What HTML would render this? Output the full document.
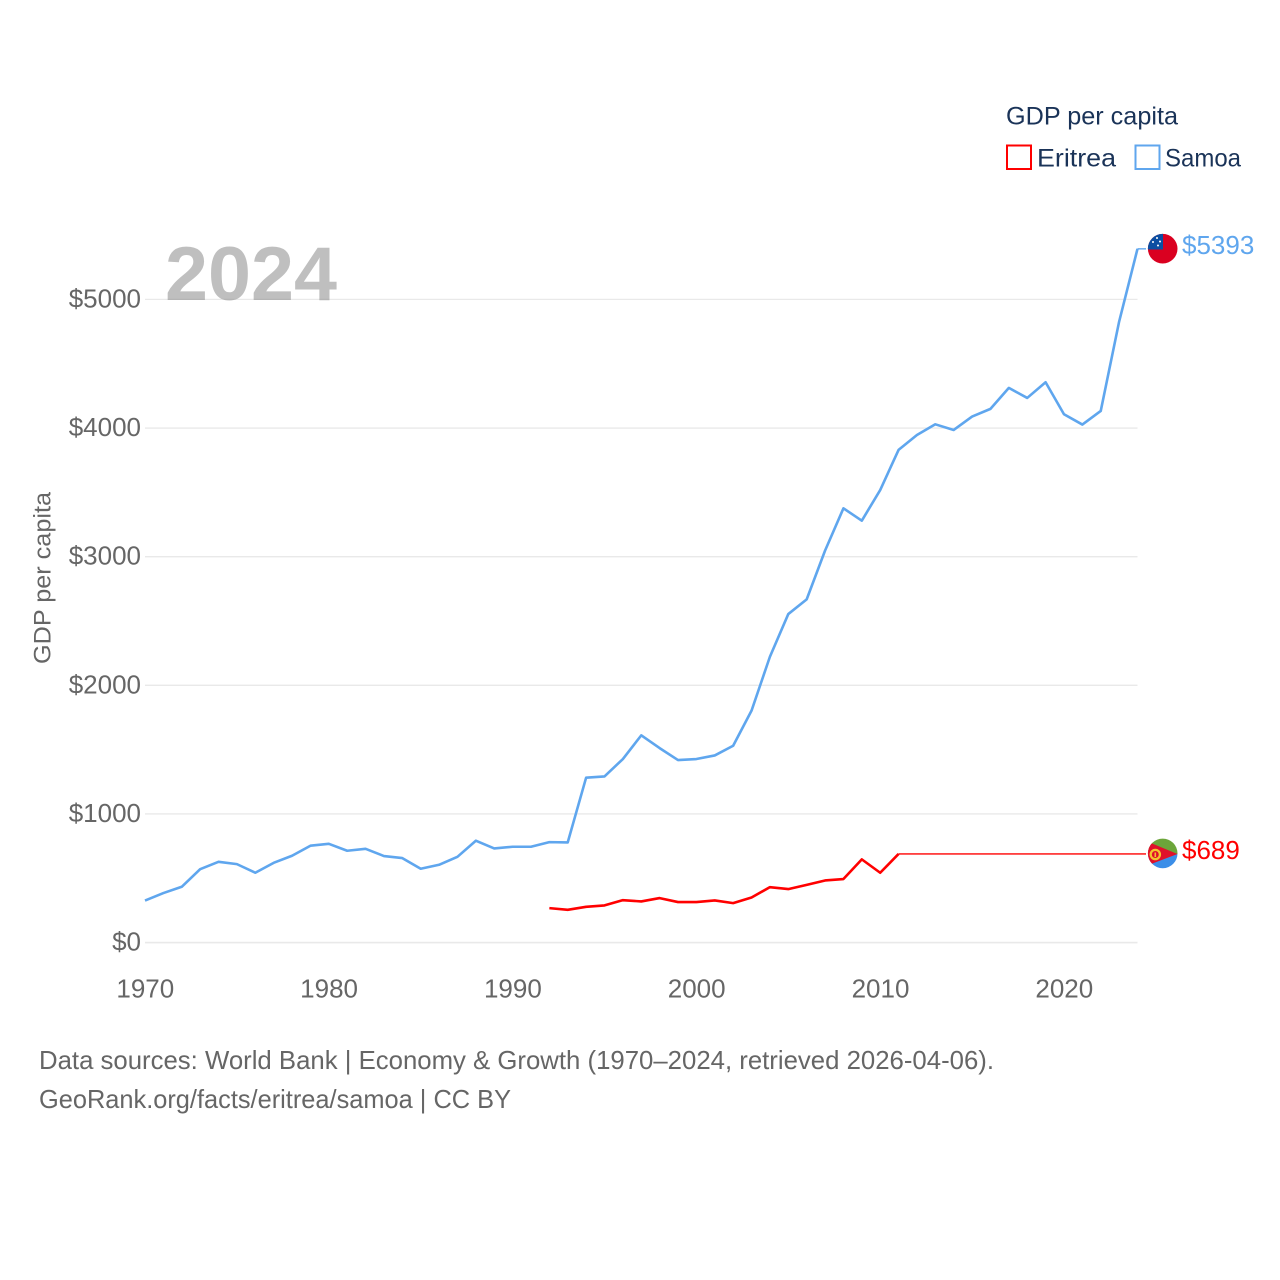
<!DOCTYPE html>
<html lang="en">
<head>
<meta charset="utf-8">
<title>GDP per capita: Eritrea and Samoa</title>
<style>
html,body{margin:0;padding:0;background:#fff;}
svg{display:block;font-family:"Liberation Sans",sans-serif;}
</style>
</head>
<body>
<svg id="chart" xmlns="http://www.w3.org/2000/svg" width="1280" height="1280" viewBox="0 0 1280 1280">
  <rect x="0" y="0" width="1280" height="1280" fill="#ffffff"/>
  <defs>
    <clipPath id="samoa-clip"><circle cx="1162.7" cy="248.7" r="14.8"/></clipPath>
    <clipPath id="eritrea-clip"><circle cx="1162.7" cy="853.4" r="14.8"/></clipPath>
  </defs>
  <g id="grid"></g>
  <g id="y-ticks"></g>
  <g id="x-ticks"></g>
  <text transform="translate(50.5,664) rotate(-90)" font-size="24.5" fill="#666666" textLength="172" lengthAdjust="spacingAndGlyphs">GDP per capita</text>
  <text x="165" y="300" font-size="76" font-weight="700" fill="#808080" fill-opacity="0.5" textLength="172" lengthAdjust="spacingAndGlyphs">2024</text>
  <g id="series"></g>
  <g clip-path="url(#samoa-clip)">
    <rect x="1146" y="232" width="34" height="34" fill="#da0020"/>
    <rect x="1146" y="232" width="17" height="17.5" fill="#0b4ea2"/>
    <circle cx="1157" cy="238" r="1" fill="#fff"/>
    <circle cx="1153" cy="242" r="1" fill="#fff"/>
    <circle cx="1160" cy="241.5" r="1" fill="#fff"/>
    <circle cx="1158" cy="245.5" r="1" fill="#fff"/>
  </g>
  <g clip-path="url(#eritrea-clip)">
    <rect x="1146" y="836" width="34" height="18" fill="#6ca53a"/>
    <rect x="1146" y="854" width="34" height="16" fill="#3b8ee8"/>
    <polygon points="1146,841 1177.6,854 1146,866" fill="#e0102a"/>
    <circle cx="1155.3" cy="854.5" r="4.6" fill="none" stroke="#f3c52e" stroke-width="2.3"/>
    <rect x="1154.5" y="852.5" width="1.6" height="4.5" fill="#f3c52e"/>
  </g>
  <text id="samoa-end-label" x="1182" y="254" font-size="26" fill="#5fa6ee"></text>
  <text id="eritrea-end-label" x="1182" y="859" font-size="26" fill="#ff0000"></text>

  <g>
    <text x="1006" y="124.5" font-size="25" fill="#1a3358" textLength="172" lengthAdjust="spacingAndGlyphs">GDP per capita</text>
    <rect x="1007" y="145.5" width="24" height="23.5" fill="none" stroke="#ff0000" stroke-width="2"/>
    <text x="1037" y="166.5" font-size="25" fill="#1a3358" textLength="79" lengthAdjust="spacingAndGlyphs">Eritrea</text>
    <rect x="1135.5" y="145.5" width="24" height="23.5" fill="none" stroke="#5fa6ee" stroke-width="2"/>
    <text x="1165" y="166.5" font-size="25" fill="#1a3358" textLength="76" lengthAdjust="spacingAndGlyphs">Samoa</text>
  </g>

  <text x="39" y="1069" font-size="26" fill="#666666" textLength="955" lengthAdjust="spacingAndGlyphs">Data sources: World Bank | Economy &amp; Growth (1970–2024, retrieved 2026-04-06).</text>
  <text x="39" y="1108" font-size="26" fill="#666666" textLength="472" lengthAdjust="spacingAndGlyphs">GeoRank.org/facts/eritrea/samoa | CC BY</text>
</svg>
<script>
const years = [1970,1971,1972,1973,1974,1975,1976,1977,1978,1979,1980,1981,1982,1983,1984,1985,1986,1987,1988,1989,1990,1991,1992,1993,1994,1995,1996,1997,1998,1999,2000,2001,2002,2003,2004,2005,2006,2007,2008,2009,2010,2011,2012,2013,2014,2015,2016,2017,2018,2019,2020,2021,2022,2023,2024];
const samoaValues = [327,385,434,571,628,610,543,620,675,753,768,714,729,673,657,574,605,667,792,732,745,745,781,779,1282,1292,1427,1611,1512,1419,1427,1455,1530,1803,2222,2554,2668,3047,3376,3280,3518,3830,3946,4029,3985,4089,4149,4312,4234,4356,4107,4027,4133,4827,5393];
const eritreaValues = [null,null,null,null,null,null,null,null,null,null,null,null,null,null,null,null,null,null,null,null,null,null,268,255,278,289,330,320,346,315,315,328,307,351,431,416,449,483,494,647,543,689,null,null,null,null,null,null,null,null,null,null,null,null,null];
const yTickValues = [0,1000,2000,3000,4000,5000];
const xTickValues = [1970,1980,1990,2000,2010,2020];

const NS = 'http://www.w3.org/2000/svg';
const X0 = 145, X1 = 1137.5, Y0 = 942.6, Y5000 = 299.4;
const CONNECTOR_END = 1146;
function xScale(year) {
  return X0 + (year - years[0]) * (X1 - X0) / (years[years.length - 1] - years[0]);
}
function yScale(value) {
  return Y0 - value * (Y0 - Y5000) / 5000;
}
function make(tag, parent, attrs) {
  const el = document.createElementNS(NS, tag);
  Object.keys(attrs).forEach(function (k) { el.setAttribute(k, attrs[k]); });
  parent.appendChild(el);
  return el;
}

const gridGroup = document.getElementById('grid');
const yTickGroup = document.getElementById('y-ticks');
const xTickGroup = document.getElementById('x-ticks');
const seriesGroup = document.getElementById('series');

yTickValues.forEach(function (v) {
  const line = make('line', gridGroup, {x1: X0, x2: X1, y1: yScale(v), y2: yScale(v), stroke: '#e9e9e9', 'stroke-width': v === 0 ? 1.6 : 1.3});
  
  
  const label = make('text', yTickGroup, {x: 141, y: yScale(v) + 8, 'text-anchor': 'end', 'font-size': 26, fill: '#666666'});
  label.textContent = '$' + v;
  
  
});

xTickValues.forEach(function (v) {
  const label = make('text', xTickGroup, {x: xScale(v) + 0.3, y: 997.5, 'text-anchor': 'middle', 'font-size': 26, fill: '#666666'});
  label.textContent = String(v);
  
  
});

function drawSeries(values, color, name) {
  const pts = [];
  values.forEach(function (v, i) {
    if (v !== null) pts.push([xScale(years[i]), yScale(v), v]);
  });
  const last = pts[pts.length - 1];
  const line = make('polyline', seriesGroup, {
    points: pts.map(function (p) { return p[0].toFixed(2) + ',' + p[1].toFixed(2); }).join(' '),
    fill: 'none', stroke: color, 'stroke-width': 2.6, 'stroke-linejoin': 'round'
  });
  
  
  const connector = make('line', seriesGroup, {x1: last[0], y1: last[1], x2: CONNECTOR_END, y2: last[1], stroke: color, 'stroke-width': 1.4});
  
  
  document.getElementById(name + '-end-label').textContent = '$' + last[2];
}
drawSeries(samoaValues, '#5fa6ee', 'samoa');
drawSeries(eritreaValues, '#ff0000', 'eritrea');
</script>
</body>
</html>
